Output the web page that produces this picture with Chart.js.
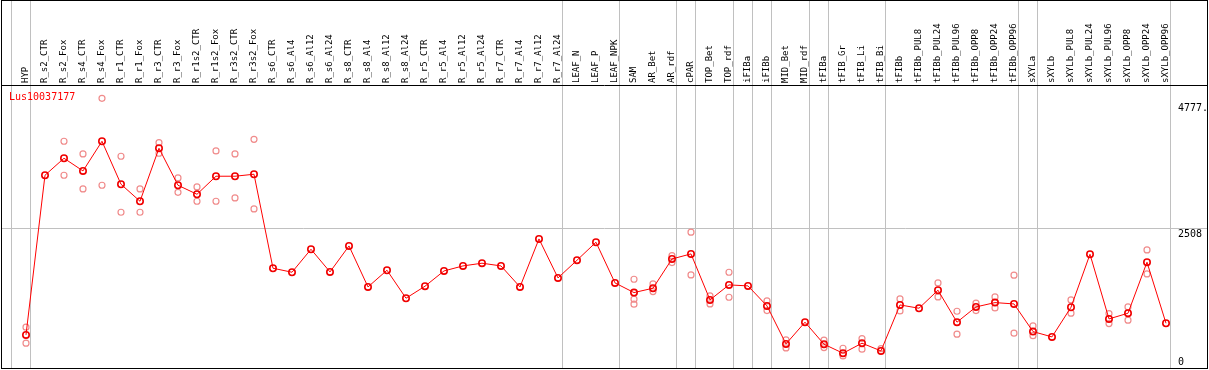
<!DOCTYPE html>
<html>
<head>
<meta charset="utf-8">
<script src="https://cdn.jsdelivr.net/npm/chart.js@4/dist/chart.umd.min.js"></script>
<style>
html,body{margin:0;padding:0;background:#fff;}
#wrap{width:1209px;height:370px;position:relative;}
</style>
</head>
<body>
<div id="wrap"><canvas id="c" width="1209" height="370"></canvas></div>
<script>
const categories = ["HYP","R_s2_CTR","R_s2_Fox","R_s4_CTR","R_s4_Fox","R_r1_CTR","R_r1_Fox","R_r3_CTR","R_r3_Fox","R_r1s2_CTR","R_r1s2_Fox","R_r3s2_CTR","R_r3s2_Fox","R_s6_CTR","R_s6_Al4","R_s6_Al12","R_s6_Al24","R_s8_CTR","R_s8_Al4","R_s8_Al12","R_s8_Al24","R_r5_CTR","R_r5_Al4","R_r5_Al12","R_r5_Al24","R_r7_CTR","R_r7_Al4","R_r7_Al12","R_r7_Al24","LEAF_N","LEAF_P","LEAF_NPK","SAM","AR_Bet","AR_rdf","cPAR","TOP_Bet","TOP_rdf","iFIBa","iFIBb","MID_Bet","MID_rdf","tFIBa","tFIB_Gr","tFIB_Li","tFIB_Bi","tFIBb","tFIBb_PUL8","tFIBb_PUL24","tFIBb_PUL96","tFIBb_OPP8","tFIBb_OPP24","tFIBb_OPP96","sXYLa","sXYLb","sXYLb_PUL8","sXYLb_PUL24","sXYLb_PUL96","sXYLb_OPP8","sXYLb_OPP24","sXYLb_OPP96"];
const meanValues = [580,3466,3773,3544,4080,3303,2996,3954,3285,3122,3448,3448,3484,1785,1713,2128,1718,2188,1447,1749,1243,1460,1736,1827,1876,1827,1447,2315,1610,1930,2255,1520,1345,1424,1953,2044,1213,1484,1466,1104,417,810,412,249,430,291,1122,1062,1388,810,1086,1164,1140,640,544,1080,2038,869,972,1894,791];
const repHigh = [719,null,4080,3851,4857,3809,3218,4055,3417,3254,3905,3851,4116,null,null,null,null,null,null,null,null,null,null,null,null,null,null,null,null,null,null,null,1586,1502,2013,2436,1285,1713,null,1194,490,null,484,339,513,333,1231,null,1520,1008,1153,1267,1659,743,null,1213,null,965,1086,2116,null];
const repLow = [430,null,3466,3218,3285,2797,2797,3863,3158,2996,2996,3056,2857,null,null,null,null,null,null,null,null,null,null,null,null,null,null,null,null,null,null,null,1225,1363,1887,1664,1140,1261,null,1019,345,null,351,200,322,null,1014,null,1267,593,1019,1068,611,567,null,972,null,784,846,1682,null];
const repExtra = [null,null,null,null,null,null,null,null,null,null,null,null,null,null,null,null,null,null,null,null,null,null,null,null,null,null,null,null,null,null,null,null,1135,null,null,null,null,null,null,null,null,null,null,null,null,null,null,null,null,null,null,null,null,null,null,null,null,null,null,null,null];
const yTicks = [0, 2508, 4777];
const yTickLabels = ["0", "2508", "4777."];
const gridValues = [2508];
const separatorsAfter = [-1,0,28,31,34,35,37,38,39,41,42,45,52,53,60];
const geneName = "Lus10037177";

const toPts = arr => arr.map((v,i)=> v===null ? null : {x:i, y:v}).filter(p=>p!==null);

const MONO = '"DejaVu Sans Mono", "Liberation Mono", monospace';

const decor = {
  id: 'decor',
  beforeDatasetsDraw(chart) {
    const ctx = chart.ctx, xs = chart.scales.x, ys = chart.scales.y;
    ctx.save();
    ctx.strokeStyle = '#c0c0c0';
    ctx.lineWidth = 1;
    separatorsAfter.forEach(i => {
      const px = Math.round(xs.getPixelForValue(i) + 4.5) + 0.5;
      ctx.beginPath(); ctx.moveTo(px, 0); ctx.lineTo(px, 369); ctx.stroke();
    });
    gridValues.forEach(v => {
      const py = Math.round(ys.getPixelForValue(v)) + 0.5;
      ctx.beginPath(); ctx.moveTo(2, py); ctx.lineTo(1207, py); ctx.stroke();
    });
    ctx.restore();
  },
  afterDraw(chart) {
    const ctx = chart.ctx, xs = chart.scales.x, ys = chart.scales.y;
    ctx.save();
    ctx.strokeStyle = '#000';
    ctx.lineWidth = 1;
    ctx.strokeRect(1.5, 0.5, 1206, 368);
    ctx.beginPath(); ctx.moveTo(1.5, 85.5); ctx.lineTo(1207.5, 85.5); ctx.stroke();
    ctx.fillStyle = '#000';
    ctx.font = '9px ' + MONO;
    ctx.textAlign = 'left';
    ctx.textBaseline = 'middle';
    categories.forEach((c, i) => {
      const px = xs.getPixelForValue(i);
      ctx.save();
      ctx.translate(px, 83);
      ctx.rotate(-Math.PI/2);
      ctx.fillText(c, 0, 0);
      ctx.restore();
    });
    ctx.font = '10px ' + MONO;
    yTicks.forEach((t, k) => {
      const py = ys.getPixelForValue(t);
      if (t === 0) { ctx.textBaseline = 'bottom'; ctx.fillText(yTickLabels[k], 1178, py); }
      else { ctx.textBaseline = 'top'; ctx.fillText(yTickLabels[k], 1178, py + 1); }
    });
    ctx.fillStyle = '#ff0000';
    ctx.font = '10px ' + MONO;
    ctx.textBaseline = 'top';
    ctx.fillText(geneName, 9, 92);
    ctx.restore();
  }
};

const repStyle = {
  showLine: false,
  pointRadius: 3,
  pointHoverRadius: 3,
  pointBorderWidth: 1.2,
  pointBorderColor: '#f08c8c',
  pointBackgroundColor: 'rgba(0,0,0,0)',
  borderColor: '#f08c8c'
};

new Chart(document.getElementById('c'), {
  type: 'line',
  data: {
    datasets: [
      { label: 'mean', data: toPts(meanValues), order: 0, borderColor: '#ff0000', borderWidth: 1, pointRadius: 3.2, pointHoverRadius: 3.2, pointBorderWidth: 1.6, pointBorderColor: '#f00000', pointBackgroundColor: 'rgba(0,0,0,0)', tension: 0 },
      Object.assign({ label: 'rep1', data: toPts(repHigh), order: 1 }, repStyle),
      Object.assign({ label: 'rep2', data: toPts(repLow), order: 2 }, repStyle),
      Object.assign({ label: 'rep3', data: toPts(repExtra), order: 3 }, repStyle)
    ]
  },
  options: {
    responsive: false,
    animation: false,
    events: [],
    layout: { autoPadding: false, padding: { top: 85, bottom: 3, left: 2, right: 2 } },
    plugins: { legend: { display: false }, tooltip: { enabled: false }, title: { display: false } },
    scales: {
      x: { type: 'linear', display: false, min: -1.263, max: 62.158 },
      y: { type: 'linear', display: false, min: 0, max: 5097 }
    }
  },
  plugins: [decor]
});
</script>
</body>
</html>
